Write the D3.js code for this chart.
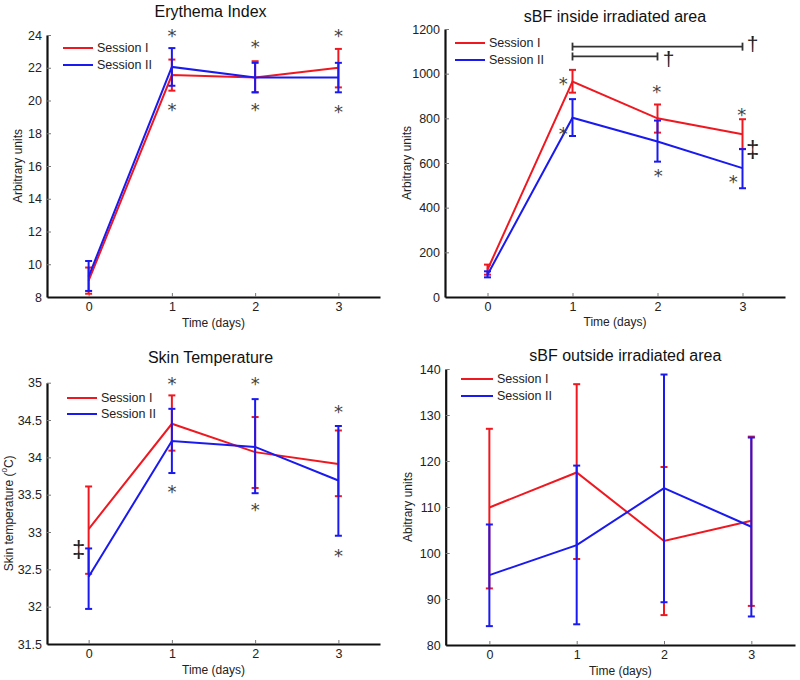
<!DOCTYPE html>
<html><head><meta charset="utf-8">
<script src="https://cdn.jsdelivr.net/npm/d3@7"></script>
<style>
body{margin:0;background:#fff;}
text{font-family:"Liberation Sans",Arial,sans-serif;}
</style></head>
<body>
<script>
// ---------- data ----------
const days = [0, 1, 2, 3];
const seriesNames = ["Session I", "Session II"];

// Erythema Index
const eryS1 = [9.0, 21.55, 21.4, 22.0];
const eryS1Low = [8.2, 20.6, 20.5, 20.8];
const eryS1High = [9.8, 22.5, 22.4, 23.15];
const eryS2 = [9.25, 22.05, 21.4, 21.4];
const eryS2Low = [8.37, 20.9, 20.5, 20.5];
const eryS2High = [10.2, 23.2, 22.3, 22.3];
const eryTicks = [8, 10, 12, 14, 16, 18, 20, 22, 24];

// sBF inside irradiated area
const inS1 = [122, 965, 800, 729];
const inS1Low = [100, 915, 736, 663];
const inS1High = [145, 1017, 862, 796];
const inS2 = [100, 803, 696, 577];
const inS2Low = [88, 721, 606, 487];
const inS2High = [115, 886, 790, 662];
const inTicks = [0, 200, 400, 600, 800, 1000, 1200];

// Skin temperature
const tempS1 = [33.04, 34.45, 34.07, 33.91];
const tempS1Low = [32.44, 34.09, 33.59, 33.48];
const tempS1High = [33.61, 34.83, 34.54, 34.36];
const tempS2 = [32.40, 34.22, 34.14, 33.69];
const tempS2Low = [31.97, 33.79, 33.52, 32.95];
const tempS2High = [32.78, 34.65, 34.78, 34.42];
const tempTicks = [31.5, 32, 32.5, 33, 33.5, 34, 34.5, 35];

// sBF outside irradiated area
const outS1 = [109.9, 117.5, 102.6, 107.0];
const outS1Low = [92.3, 98.7, 86.5, 88.5];
const outS1High = [127.0, 136.7, 118.7, 125.3];
const outS2 = [95.2, 101.7, 114.1, 105.7];
const outS2Low = [84.1, 84.5, 89.3, 86.2];
const outS2High = [106.2, 119.0, 138.8, 125.1];
const outTicks = [80, 90, 100, 110, 120, 130, 140];

// annotations: [day, value, symbol]
const eryMarks = [[1, 24.2, "*"], [1, 19.7, "*"], [2, 23.55, "*"], [2, 19.7, "*"], [3, 24.2, "*"], [3, 19.6, "*"]];
const inMarks = [[0.89, 972, "*"], [0.89, 748, "*"], [1.99, 936, "*"], [2.01, 560, "*"], [2.99, 837, "*"], [2.89, 537, "*"],
                 [3.12, 667, "‡"], [3.12, 1137, "†"], [2.13, 1070, "†"]];
const inBrackets = [[1, 3, 1121], [1, 2, 1077]];
const tempMarks = [[1, 35.04, "*"], [1, 33.60, "*"], [2, 35.04, "*"], [2, 33.35, "*"], [3, 34.67, "*"], [3, 32.74, "*"], [-0.12, 32.78, "‡"]];

// ---------- layout ----------
const RED = "#f01820", BLUE = "#1a1af0";
const panels = [
  {title: "Erythema Index", ylabel: "Arbitrary units", left: 47, right: 380, top: 35, bottom: 297, dom: [8, 24], ticks: eryTicks,
   s1: [eryS1, eryS1Low, eryS1High], s2: [eryS2, eryS2Low, eryS2High], marks: eryMarks, brackets: [],
   titleY: 11, titleDx: -3, ylabX: 18, xlabY: 323, leg: [63, 93, 48, 65]},
  {title: "sBF inside irradiated area", ylabel: "Arbitrary units", left: 445, right: 785, top: 29, bottom: 297, dom: [0, 1200], ticks: inTicks,
   s1: [inS1, inS1Low, inS1High], s2: [inS2, inS2Low, inS2High], marks: inMarks, brackets: inBrackets,
   titleY: 16, titleDx: 0, ylabX: 407, xlabY: 322, leg: [455, 485, 43, 60]},
  {title: "Skin Temperature", ylabel: "Skin temperature", left: 47, right: 380, top: 382.7, bottom: 644, dom: [31.5, 35], ticks: tempTicks,
   s1: [tempS1, tempS1Low, tempS1High], s2: [tempS2, tempS2Low, tempS2High], marks: tempMarks, brackets: [],
   titleY: 357, titleDx: -3, ylabX: 9, xlabY: 670, leg: [67, 97, 398, 414], degree: true},
  {title: "sBF outside irradiated area", ylabel: "Abitrary units", left: 445.7, right: 795, top: 369, bottom: 645, dom: [80, 140], ticks: outTicks,
   s1: [outS1, outS1Low, outS1High], s2: [outS2, outS2Low, outS2High], marks: [], brackets: [],
   titleY: 355, titleDx: 5, ylabX: 408, xlabY: 671, leg: [461, 493, 379, 396]}
];

const svg = d3.select("body").append("svg").attr("width", 800).attr("height", 680);

panels.forEach(p => {
  const x = d3.scaleLinear().domain([-0.5, 3.5]).range([p.left, p.right]);
  const y = d3.scaleLinear().domain(p.dom).range([p.bottom, p.top]);
  const g = svg.append("g");

  // axes
  const yAx = g.append("g").attr("transform", `translate(${p.left},0)`)
    .call(d3.axisLeft(y).tickValues(p.ticks).tickSize(-4).tickSizeOuter(0).tickPadding(5).tickFormat(d3.format("")));
  const xAx = g.append("g").attr("transform", `translate(0,${p.bottom})`)
    .call(d3.axisBottom(x).tickValues(days).tickSize(-4).tickSizeOuter(0).tickPadding(5).tickFormat(d3.format("d")));
  [yAx, xAx].forEach(a => {
    a.select(".domain").attr("stroke", "#111").attr("stroke-width", 2.2);
    a.selectAll(".tick line").attr("stroke", "#777").attr("stroke-width", 1);
    a.selectAll("text").attr("font-size", 12.5).attr("fill", "#222").style("font-family", "'Liberation Sans',Arial,sans-serif");
  });

  // title & labels
  const cx = (p.left + p.right) / 2;
  g.append("text").attr("x", cx + p.titleDx).attr("y", p.titleY).attr("text-anchor", "middle").attr("dominant-baseline", "central")
    .attr("font-size", 16).attr("font-weight", "normal").attr("fill", "#111").text(p.title);
  g.append("text").attr("x", cx).attr("y", p.xlabY).attr("text-anchor", "middle").attr("dominant-baseline", "central")
    .attr("font-size", 12).attr("fill", "#222").text("Time (days)");
  const cy = (p.top + p.bottom) / 2;
  const yl = g.append("text").attr("transform", `translate(${p.ylabX},${cy}) rotate(-90)`).attr("text-anchor", "middle")
    .attr("dominant-baseline", "central").attr("font-size", 12).attr("fill", "#222").text(p.ylabel);
  if (p.degree) {
    yl.append("tspan").text(" (");
    yl.append("tspan").attr("baseline-shift", "super").attr("font-size", 8).text("0");
    yl.append("tspan").text("C)");
  }

  // series
  [[p.s1, RED], [p.s2, BLUE]].forEach(([s, col]) => {
    const [m, lo, hi] = s;
    g.append("path").datum(days).attr("fill", "none").attr("stroke", col).attr("stroke-width", 2)
      .attr("d", d3.line().x(d => x(d)).y((d, i) => y(m[i])));
    const eb = g.append("g").attr("stroke", col).attr("stroke-width", 2);
    days.forEach((d, i) => {
      eb.append("line").attr("x1", x(d)).attr("x2", x(d)).attr("y1", y(lo[i])).attr("y2", y(hi[i]));
      [lo[i], hi[i]].forEach(v => eb.append("line").attr("x1", x(d) - 3.5).attr("x2", x(d) + 3.5).attr("y1", y(v)).attr("y2", y(v)));
    });
  });

  // brackets
  p.brackets.forEach(([a, b, v]) => {
    const bg = g.append("g").attr("stroke", "#333").attr("stroke-width", 1.8);
    bg.append("line").attr("x1", x(a)).attr("x2", x(b)).attr("y1", y(v)).attr("y2", y(v));
    [a, b].forEach(t => bg.append("line").attr("x1", x(t)).attr("x2", x(t)).attr("y1", y(v) - 4).attr("y2", y(v) + 4));
  });

  // annotation marks
  p.marks.forEach(([d, v, s]) => {
    if (s === "*") {
      g.append("text").attr("x", x(d)).attr("y", y(v) + 10.5).attr("text-anchor", "middle")
        .style("font-family", "'DejaVu Sans',sans-serif").attr("font-size", 18).attr("fill", "#444").text(s);
    } else {
      g.append("text").attr("x", x(d)).attr("y", y(v)).attr("text-anchor", "middle").attr("dominant-baseline", "central")
        .attr("font-size", s === "‡" ? 24 : 21).attr("fill", "#222").text(s);
    }
  });

  // legend
  const [l1, l2, ly1, ly2] = p.leg;
  [[RED, ly1, seriesNames[0]], [BLUE, ly2, seriesNames[1]]].forEach(([col, ly, name]) => {
    g.append("line").attr("x1", l1).attr("x2", l2).attr("y1", ly).attr("y2", ly).attr("stroke", col).attr("stroke-width", 2);
    g.append("text").attr("x", l2 + 4).attr("y", ly).attr("dominant-baseline", "central").attr("font-size", 12.5)
      .attr("fill", "#222").text(name);
  });
});
</script>
</body></html>
